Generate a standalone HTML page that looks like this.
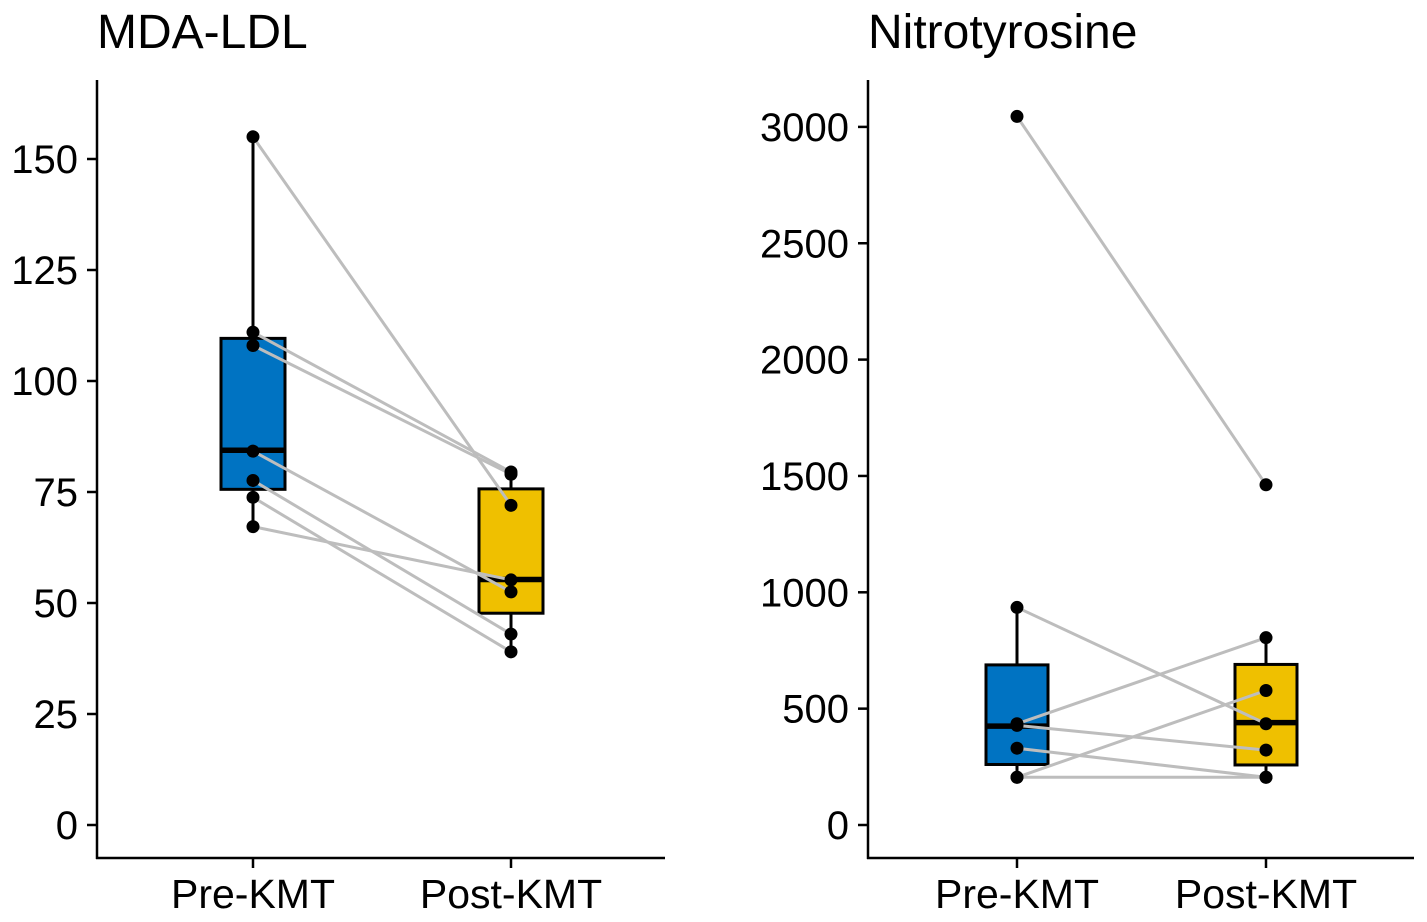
<!DOCTYPE html>
<html><head><meta charset="utf-8"><style>
body{margin:0;background:#fff}
svg{display:block;font-family:"Liberation Sans",Arial,sans-serif}
</style></head><body>
<svg id="chart" width="1427" height="922"></svg>
<script>
const groups = ["Pre-KMT", "Post-KMT"];
const mdaPre = [155, 111, 108, 84.2, 77.6, 73.8, 67.2];
const mdaPost = [72, 79.5, 79, 52.5, 43, 39, 55.2];
const mdaBoxPre = [67.2, 75.6, 84.4, 109.6, 155];
const mdaBoxPost = [39, 47.7, 55.3, 75.7, 79.5];
const mdaTicks = [0, 25, 50, 75, 100, 125, 150];
const nitPre = [3045, 935, 435, 428, 330, 205, 205];
const nitPost = [1462, 435, 805, 322, 205, 578, 205];
const nitBoxPre = [205, 260, 425, 688, 935];
const nitBoxPost = [205, 258, 440, 690, 805];
const nitTicks = [0, 500, 1000, 1500, 2000, 2500, 3000];

const NS = "http://www.w3.org/2000/svg";
const svg = document.getElementById("chart");
function mk(tag, attrs, parent) {
  const e = document.createElementNS(NS, tag);
  for (const k in attrs) e.setAttribute(k, attrs[k]);
  (parent || svg).appendChild(e);
  return e;
}
function panel(cfg) {
  const g = mk("g", {});
  
  
  const y = v => cfg.y0 - v * cfg.k;
  const xs = [cfg.xPre, cfg.xPost];
  const t = mk("text", {x: cfg.titleX, y: 48, "font-size": 48, fill: "#000"}, g);
  t.textContent = cfg.title;
  
  
  const ya = mk("line", {x1: cfg.ax, x2: cfg.ax, y1: 80, y2: 859, stroke: "#000", "stroke-width": 2.5}, g);
  
  
  const xa = mk("line", {x1: cfg.ax - 1, x2: cfg.axEnd, y1: 858, y2: 858, stroke: "#000", "stroke-width": 2.5}, g);
  
  
  cfg.ticks.forEach(v => {
    mk("line", {x1: cfg.ax - 10, x2: cfg.ax, y1: y(v), y2: y(v), stroke: "#000", "stroke-width": 2.5}, g);
    const tl = mk("text", {x: cfg.ax - 19, y: y(v) + 14, "font-size": 40, "text-anchor": "end", fill: "#000"}, g);
    tl.textContent = v;
    
    
  });
  groups.forEach((gname, i) => {
    mk("line", {x1: xs[i], x2: xs[i], y1: 858, y2: 868, stroke: "#000", "stroke-width": 2.5}, g);
    const xl = mk("text", {x: xs[i], y: 908, "font-size": 41, "text-anchor": "middle", fill: "#000"}, g);
    xl.textContent = gname;
    
    
  });
  [cfg.boxPre, cfg.boxPost].forEach((b, i) => {
    const x = xs[i], w = cfg.bw;
    const wl = mk("line", {x1: x, x2: x, y1: y(b[0]), y2: y(b[4]), stroke: "#000", "stroke-width": 3}, g);
    
    
    const r = mk("rect", {x: x - w / 2, y: y(b[3]), width: w, height: y(b[1]) - y(b[3]), fill: i ? "#EFC000" : "#0073C2", stroke: "#000", "stroke-width": 3}, g);
    
    
    const m = mk("line", {x1: x - w / 2, x2: x + w / 2, y1: y(b[2]), y2: y(b[2]), stroke: "#000", "stroke-width": 5.5}, g);
    
    
  });
  cfg.pre.forEach((v, i) => {
    const l = mk("line", {x1: xs[0], x2: xs[1], y1: y(v), y2: y(cfg.post[i]), stroke: "#bdbdbd", "stroke-width": 3}, g);
    
    
  });
  [cfg.pre, cfg.post].forEach((arr, i) => arr.forEach(v => {
    const c = mk("circle", {cx: xs[i], cy: y(v), r: 6.5, fill: "#000"}, g);
    
    
  }));
}
panel({name: "mda-ldl", title: "MDA-LDL", titleX: 97, ax: 97, axEnd: 665, xPre: 253, xPost: 511, bw: 64,
  y0: 825, k: 4.44, ticks: mdaTicks, pre: mdaPre, post: mdaPost, boxPre: mdaBoxPre, boxPost: mdaBoxPost});
panel({name: "nitrotyrosine", title: "Nitrotyrosine", titleX: 868, ax: 868, axEnd: 1414, xPre: 1017, xPost: 1266, bw: 62,
  y0: 825, k: 0.2327, ticks: nitTicks, pre: nitPre, post: nitPost, boxPre: nitBoxPre, boxPost: nitBoxPost});
</script>
</body></html>
